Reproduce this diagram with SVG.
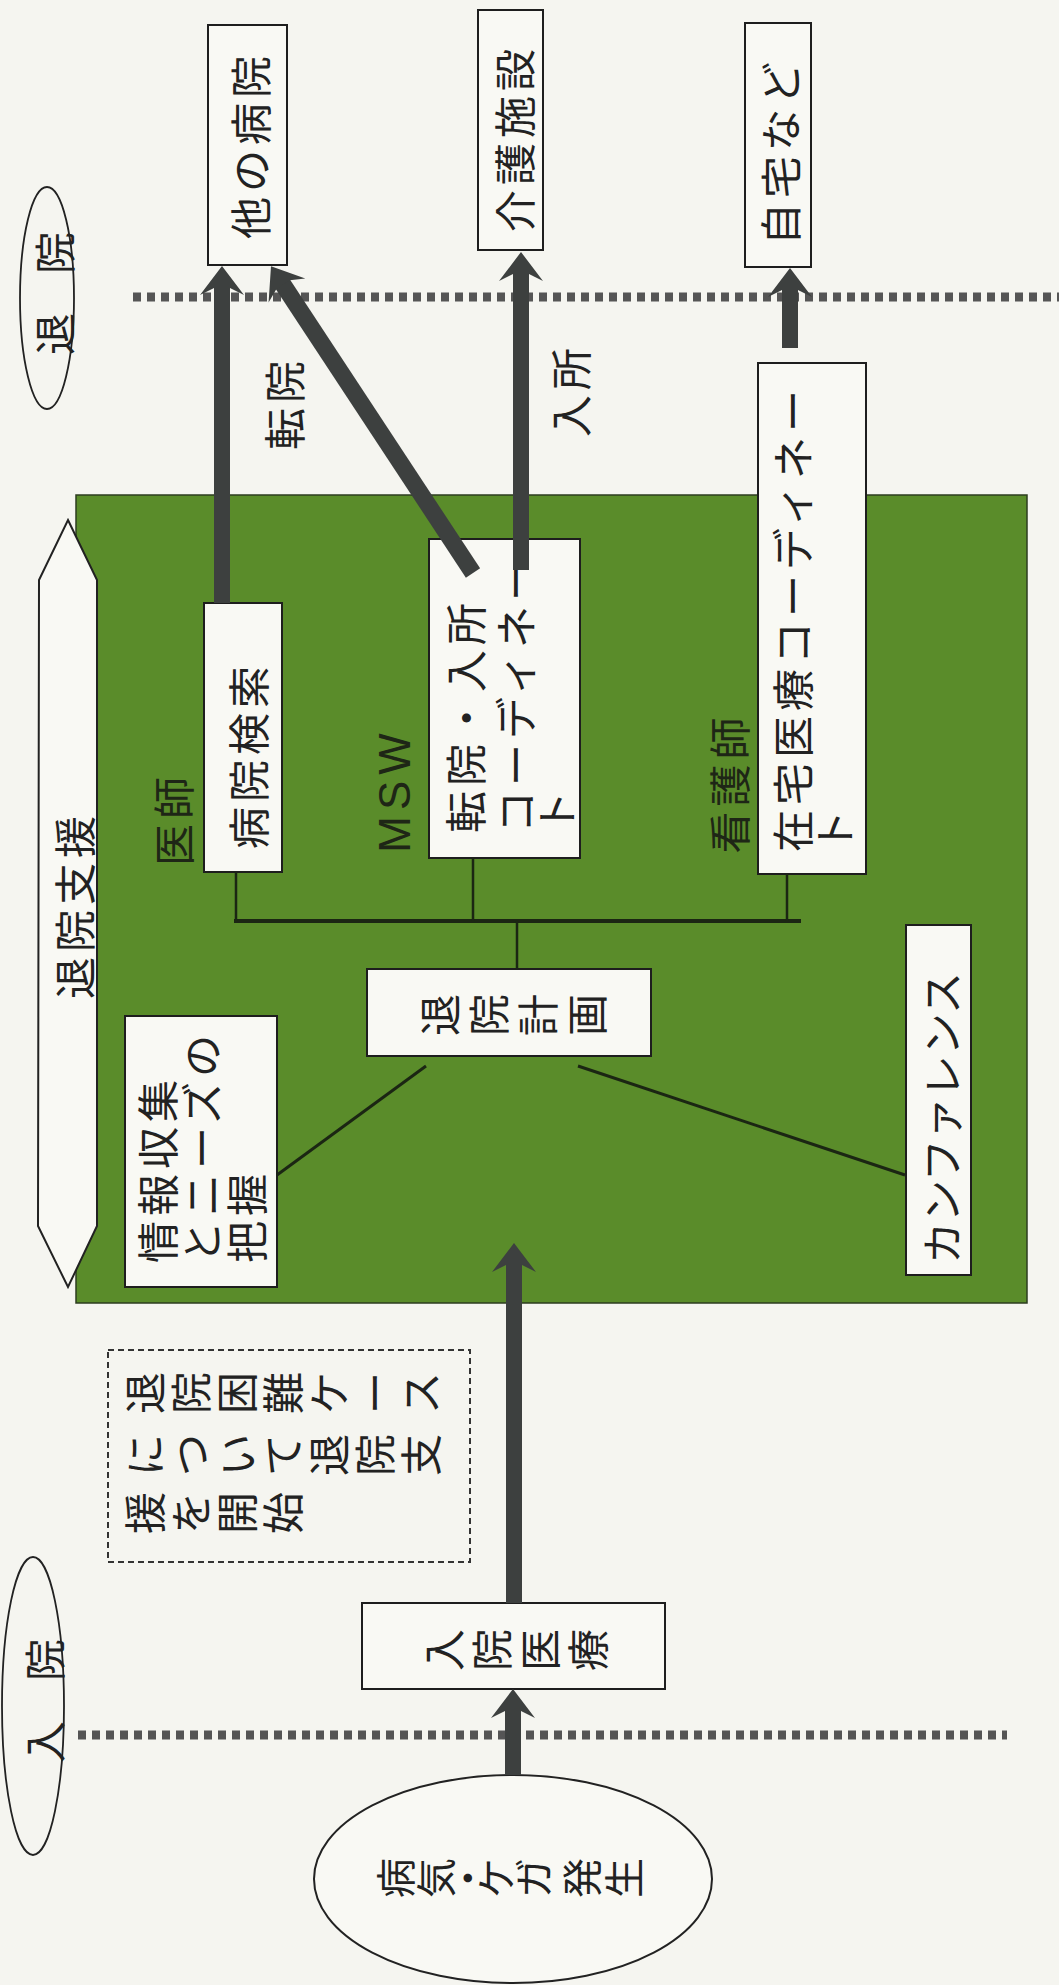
<svg xmlns="http://www.w3.org/2000/svg" width="1059" height="1985" viewBox="0 0 1059 1985">
<defs>
<style>
.bg{fill:#f5f5f0}
.box{fill:#f9f9f4;stroke:#1e1e1e;stroke-width:2}
.t{font-family:"Noto Sans CJK JP","Noto Sans CJK SC",sans-serif;font-size:42px;fill:#222;letter-spacing:5px}
.c{font-family:"Noto Sans CJK JP","Noto Sans CJK SC",sans-serif;font-size:42px;fill:#222}
.lbl{fill:#1e2616}
.arrow{stroke:#3d403f;stroke-width:16;fill:none;marker-end:url(#ah)}
.conn{stroke:#1b2613;stroke-width:2.5;fill:none}
.dot{stroke:#555;stroke-width:9;stroke-dasharray:8 6;fill:none}
</style>
<marker id="ah" markerUnits="userSpaceOnUse" markerWidth="32" markerHeight="46" viewBox="0 0 32 46" refX="10" refY="23" orient="auto">
<path d="M1,1 L30,23 L1,45 L8,31 L8,15 Z" fill="#3d403f"/>
</marker>
</defs>
<rect class="bg" x="0" y="0" width="1059" height="1985"/>

<g id="timeline">
<line class="dot" x1="133" y1="297" x2="1059" y2="297"/>
<line class="dot" x1="78" y1="1735" x2="1007" y2="1735"/>
</g>

<g id="discharge-label">
<ellipse cx="47" cy="298" rx="27" ry="111" fill="none" stroke="#222" stroke-width="1.8"/>
<text class="c" text-anchor="middle" dominant-baseline="central" transform="translate(52,334) rotate(-90)">退</text>
<text class="c" text-anchor="middle" dominant-baseline="central" transform="translate(52,253) rotate(-90)">院</text>
</g>

<g id="admission-label">
<ellipse cx="33" cy="1706" rx="31" ry="149" fill="none" stroke="#222" stroke-width="1.8"/>
<text class="c" text-anchor="middle" dominant-baseline="central" transform="translate(42,1742) rotate(-90)">入</text>
<text class="c" text-anchor="middle" dominant-baseline="central" transform="translate(42,1660) rotate(-90)">院</text>
</g>

<g id="support-area">
<rect x="76" y="495" width="951" height="808" fill="#5a8c2a" stroke="#2d3d1f" stroke-width="1.5"/>
</g>

<g id="support-arrow">
<polygon points="68,520 97,580 97,1226 68,1287 38,1226 39,580" fill="#f9f9f4" stroke="#222" stroke-width="2"/>
<text class="t" text-anchor="middle" dominant-baseline="central" transform="translate(72,905) rotate(-90)">退院支援</text>
</g>

<g id="other-hospital">
<rect class="box" x="208" y="25" width="79" height="240"/>
<text class="t" text-anchor="middle" dominant-baseline="central" transform="translate(248,145) rotate(-90)">他の病院</text>
</g>

<g id="care-facility">
<rect class="box" x="478" y="10" width="65" height="240"/>
<text class="t" text-anchor="middle" dominant-baseline="central" transform="translate(512,138) rotate(-90)">介護施設</text>
</g>

<g id="home">
<rect class="box" x="745" y="23" width="66" height="244"/>
<text class="t" text-anchor="middle" dominant-baseline="central" transform="translate(778,151) rotate(-90)">自宅など</text>
</g>

<g id="doctor-label">
<text class="t lbl" text-anchor="middle" dominant-baseline="central" transform="translate(171,819) rotate(-90)">医師</text>
</g>

<g id="hospital-search">
<rect class="box" x="204" y="603" width="78" height="269"/>
<text class="t" text-anchor="middle" dominant-baseline="central" transform="translate(246,755) rotate(-90)">病院検索</text>
</g>

<g id="msw-label">
<text text-anchor="middle" dominant-baseline="central" transform="translate(394,790) rotate(-90)" style="font-family:'Liberation Sans',Arial,sans-serif;font-size:44px;letter-spacing:6px;fill:#1e2616">MSW</text>
</g>

<g id="transfer-coordinator">
<rect class="box" x="429" y="539" width="151" height="319"/>
<text class="t" dominant-baseline="central" transform="translate(463,833) rotate(-90)">転院・入所</text>
<text class="t" dominant-baseline="central" transform="translate(513,833) rotate(-90)">コーディネー</text>
<text class="t" dominant-baseline="central" transform="translate(554,833) rotate(-90)">ト</text>
</g>

<g id="nurse-label">
<text class="t lbl" text-anchor="middle" dominant-baseline="central" transform="translate(727,783) rotate(-90)">看護師</text>
</g>

<g id="home-care-coordinator">
<rect class="box" x="758" y="363" width="108" height="511"/>
<text class="t" dominant-baseline="central" transform="translate(790,852) rotate(-90)">在宅医療コーディネー</text>
<text class="t" dominant-baseline="central" transform="translate(832,852) rotate(-90)">ト</text>
</g>

<g id="discharge-plan">
<rect class="box" x="367" y="969" width="284" height="87"/>
<text class="c" text-anchor="middle" dominant-baseline="central" transform="translate(437,1015) rotate(-90)">退</text>
<text class="c" text-anchor="middle" dominant-baseline="central" transform="translate(486,1015) rotate(-90)">院</text>
<text class="c" text-anchor="middle" dominant-baseline="central" transform="translate(535,1015) rotate(-90)">計</text>
<text class="c" text-anchor="middle" dominant-baseline="central" transform="translate(584,1015) rotate(-90)">画</text>
</g>

<g id="info-gathering">
<rect class="box" x="125" y="1016" width="152" height="271"/>
<text class="t" dominant-baseline="central" transform="translate(155,1263) rotate(-90)">情報収集</text>
<text class="t" dominant-baseline="central" transform="translate(199,1263) rotate(-90)">とニーズの</text>
<text class="t" dominant-baseline="central" transform="translate(244,1263) rotate(-90)">把握</text>
</g>

<g id="conference">
<rect class="box" x="906" y="925" width="65" height="350"/>
<text class="c" text-anchor="middle" dominant-baseline="central" transform="translate(939,1118) rotate(-90)">カンファレンス</text>
</g>

<g id="note">
<rect x="108" y="1350" width="362" height="212" fill="none" stroke="#333" stroke-width="2" stroke-dasharray="6 4"/>
<g class="c" text-anchor="middle" dominant-baseline="central">
<text transform="translate(142,1393) rotate(-90)">退</text>
<text transform="translate(188,1393) rotate(-90)">院</text>
<text transform="translate(234,1393) rotate(-90)">困</text>
<text transform="translate(280,1393) rotate(-90)">難</text>
<text transform="translate(326,1393) rotate(-90)">ケ</text>
<text transform="translate(372,1393) rotate(-90)">ー</text>
<text transform="translate(418,1393) rotate(-90)">ス</text>
<text transform="translate(142,1455) rotate(-90)">に</text>
<text transform="translate(188,1455) rotate(-90)">つ</text>
<text transform="translate(234,1455) rotate(-90)">い</text>
<text transform="translate(280,1455) rotate(-90)">て</text>
<text transform="translate(326,1455) rotate(-90)">退</text>
<text transform="translate(372,1455) rotate(-90)">院</text>
<text transform="translate(418,1455) rotate(-90)">支</text>
<text transform="translate(142,1513) rotate(-90)">援</text>
<text transform="translate(188,1513) rotate(-90)">を</text>
<text transform="translate(234,1513) rotate(-90)">開</text>
<text transform="translate(280,1513) rotate(-90)">始</text>
</g>
</g>

<g id="inpatient-care">
<rect class="box" x="362" y="1603" width="303" height="86"/>
<g class="c" text-anchor="middle" dominant-baseline="central">
<text transform="translate(441,1650) rotate(-90)">入</text>
<text transform="translate(489,1650) rotate(-90)">院</text>
<text transform="translate(537,1650) rotate(-90)">医</text>
<text transform="translate(585,1650) rotate(-90)">療</text>
</g>
</g>

<g id="onset">
<ellipse cx="513" cy="1879" rx="199" ry="104" fill="#f9f9f4" stroke="#222" stroke-width="2"/>
<g class="c" text-anchor="middle" dominant-baseline="central" style="font-size:40px">
<text transform="translate(394,1878) rotate(-90)">病</text>
<text transform="translate(434,1878) rotate(-90)">気</text>
<text transform="translate(466,1878) rotate(-90)">・</text>
<text transform="translate(494,1878) rotate(-90)">ケ</text>
<text transform="translate(532,1878) rotate(-90)">ガ</text>
<text transform="translate(580,1878) rotate(-90)">発</text>
<text transform="translate(622,1878) rotate(-90)">生</text>
</g>
</g>

<g id="connectors">
<line class="conn" x1="234" y1="921" x2="801" y2="921" style="stroke-width:4"/>
<line class="conn" x1="236" y1="872" x2="236" y2="921"/>
<line class="conn" x1="473" y1="858" x2="473" y2="921"/>
<line class="conn" x1="787" y1="874" x2="787" y2="921"/>
<line class="conn" x1="517" y1="921" x2="517" y2="969"/>
<line class="conn" x1="426" y1="1066" x2="277" y2="1175" style="stroke-width:3"/>
<line class="conn" x1="578" y1="1066" x2="905" y2="1175" style="stroke-width:3"/>
<line class="arrow" x1="222" y1="603" x2="222" y2="286"/>
<line class="arrow" x1="473" y1="573" x2="282" y2="283" style="stroke-width:17"/>
<line class="arrow" x1="521" y1="570" x2="521" y2="272"/>
<line class="arrow" x1="790" y1="348" x2="790" y2="288"/>
<line class="arrow" x1="514" y1="1603" x2="514" y2="1263"/>
<line class="arrow" x1="513" y1="1775" x2="513" y2="1709"/>
</g>

<g id="edge-labels">
<text class="t" text-anchor="middle" dominant-baseline="central" transform="translate(282,403) rotate(-90)">転院</text>
<text class="t" text-anchor="middle" dominant-baseline="central" transform="translate(568,390) rotate(-90)">入所</text>
</g>
</svg>
